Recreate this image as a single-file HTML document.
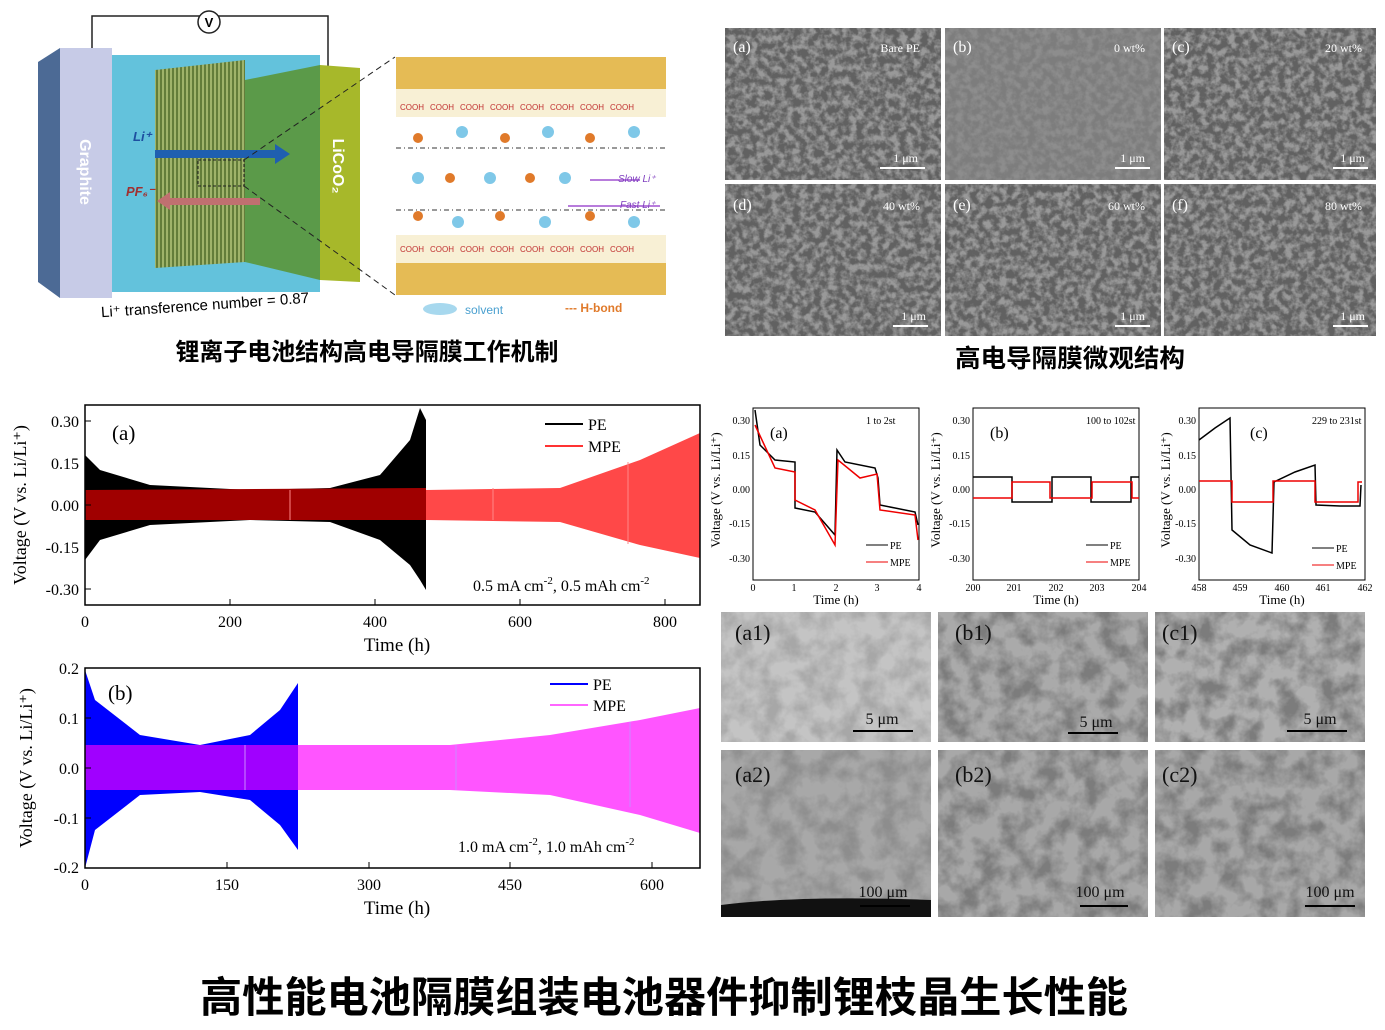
<!DOCTYPE html>
<html><head><meta charset="utf-8"><style>
html,body{margin:0;padding:0;background:#fff;}
svg{display:block;font-family:"Liberation Serif","Noto Serif CJK SC",serif;}
.cj{font-family:"Liberation Sans","Noto Sans CJK SC",sans-serif;font-weight:bold;}
.s{font-family:"Liberation Sans",sans-serif;}
</style></head><body>
<svg width="1385" height="1030" viewBox="0 0 1385 1030" xmlns="http://www.w3.org/2000/svg">
<defs>
<filter id="sem" x="0" y="0" width="100%" height="100%">
<feTurbulence type="fractalNoise" baseFrequency="0.14" numOctaves="3" seed="3"/>
<feColorMatrix type="matrix" values="0 0 0 0 0.12  0 0 0 0 0.12  0 0 0 0 0.12  0 0 0 -3 2.1"/>
</filter>
<filter id="sem2" x="0" y="0" width="100%" height="100%">
<feTurbulence type="fractalNoise" baseFrequency="0.05" numOctaves="4" seed="7"/>
<feColorMatrix type="matrix" values="0 0 0 0 0.2  0 0 0 0 0.2  0 0 0 0 0.2  0 0 0 -2.5 1.6"/>
</filter>
<pattern id="fib" width="8" height="10" patternUnits="userSpaceOnUse"><rect width="8" height="10" fill="#9fb36a"/><path d="M1 0v10M5 0v10" stroke="#4f6b2a" stroke-width="1.5"/></pattern>
</defs>
<rect width="1385" height="1030" fill="#fff"/>

<!-- TOP LEFT DIAGRAM -->
<path d="M92 48V16h236v52" fill="none" stroke="#222" stroke-width="1.5"/>
<circle cx="209" cy="22" r="11" fill="#fff" stroke="#222" stroke-width="1.5"/>
<text x="209" y="27" text-anchor="middle" class="s" font-size="13" font-weight="bold">V</text>
<polygon points="38,62 60,48 60,298 38,282" fill="#4c6a95"/>
<polygon points="60,48 112,48 112,298 60,298" fill="#c7cbe7"/>
<polygon points="112,55 320,55 320,292 112,292" fill="#63c2dc"/>
<polygon points="245,80 320,65 320,280 245,262" fill="#5b9a49"/>
<polygon points="320,65 360,68 360,282 320,280" fill="#a7b82a"/>
<polygon points="155,70 245,60 245,262 155,268" fill="url(#fib)"/>
<text transform="translate(80,172) rotate(90)" text-anchor="middle" class="s" font-size="16" font-weight="bold" fill="#fff">Graphite</text>
<text transform="translate(333,166) rotate(90)" text-anchor="middle" class="s" font-size="16" font-weight="bold" fill="#fff">LiCoO₂</text>
<rect x="155" y="150" width="120" height="8" fill="#1f5fb0"/><polygon points="275,144 290,154 275,164" fill="#1f5fb0"/>
<rect x="170" y="198" width="90" height="7" fill="#c07070"/><polygon points="170,192 157,201 170,210" fill="#c07070"/>
<text x="133" y="141" class="s" font-size="13" font-style="italic" font-weight="bold" fill="#1d4fa0">Li⁺</text>
<text x="126" y="196" class="s" font-size="13" font-style="italic" font-weight="bold" fill="#a03030">PF₆⁻</text>
<rect x="198" y="160" width="46" height="26" fill="none" stroke="#222" stroke-dasharray="3,2"/>
<path d="M244 160L395 57M244 186L395 295" stroke="#222" stroke-dasharray="6,4"/>
<text x="205" y="310" class="s" font-size="15" text-anchor="middle" transform="rotate(-4 205 305)">Li⁺ transference number = 0.87</text>
<rect x="396" y="57" width="270" height="32" fill="#e5bb55"/>
<rect x="396" y="89" width="270" height="28" fill="#f8f0d5"/>
<rect x="396" y="235" width="270" height="28" fill="#f8f0d5"/>
<rect x="396" y="263" width="270" height="32" fill="#e5bb55"/>
<g font-size="8" class="s" fill="#c03030">
<text x="400" y="110">COOH</text><text x="430" y="110">COOH</text><text x="460" y="110">COOH</text><text x="490" y="110">COOH</text><text x="520" y="110">COOH</text><text x="550" y="110">COOH</text><text x="580" y="110">COOH</text><text x="610" y="110">COOH</text>
<text x="400" y="252">COOH</text><text x="430" y="252">COOH</text><text x="460" y="252">COOH</text><text x="490" y="252">COOH</text><text x="520" y="252">COOH</text><text x="550" y="252">COOH</text><text x="580" y="252">COOH</text><text x="610" y="252">COOH</text>
</g>
<path d="M396 148H666M396 210H666" stroke="#333" stroke-dasharray="5,3,1,3"/>
<g fill="#e07a2a"><circle cx="418" cy="138" r="5"/><circle cx="505" cy="138" r="5"/><circle cx="590" cy="138" r="5"/><circle cx="450" cy="178" r="5"/><circle cx="530" cy="178" r="5"/><circle cx="418" cy="216" r="5"/><circle cx="500" cy="216" r="5"/><circle cx="590" cy="216" r="5"/></g>
<g fill="#7fc8e8"><circle cx="462" cy="132" r="6"/><circle cx="548" cy="132" r="6"/><circle cx="634" cy="132" r="6"/><circle cx="418" cy="178" r="6"/><circle cx="490" cy="178" r="6"/><circle cx="565" cy="178" r="6"/><circle cx="458" cy="222" r="6"/><circle cx="545" cy="222" r="6"/><circle cx="634" cy="222" r="6"/></g>
<path d="M590 180H640M568 206H660" stroke="#a050d0" stroke-width="1.5"/>
<text x="618" y="182" class="s" font-size="10" font-style="italic" fill="#8040c0">Slow Li⁺</text>
<text x="620" y="208" class="s" font-size="10" font-style="italic" fill="#8040c0">Fast Li⁺</text>
<ellipse cx="440" cy="309" rx="17" ry="6" fill="#a7d8ee"/>
<text x="465" y="314" class="s" font-size="12" fill="#4aa0d0">solvent</text>
<text x="565" y="312" class="s" font-size="12" font-weight="bold" fill="#e07a2a">--- H-bond</text>
<text x="367" y="360" class="cj" font-size="24" text-anchor="middle" textLength="383" lengthAdjust="spacingAndGlyphs">锂离子电池结构高电导隔膜工作机制</text>

<!-- TOP RIGHT SEM -->
<g>
<rect x="725" y="28" width="216" height="152" fill="#999"/><rect x="725" y="28" width="216" height="152" filter="url(#sem)"/>
<rect x="945" y="28" width="216" height="152" fill="#8d8d8d"/><rect x="945" y="28" width="216" height="152" filter="url(#sem)" opacity="0.35"/>
<rect x="1164" y="28" width="212" height="152" fill="#999"/><rect x="1164" y="28" width="212" height="152" filter="url(#sem)"/>
<rect x="725" y="184" width="216" height="152" fill="#999"/><rect x="725" y="184" width="216" height="152" filter="url(#sem)"/>
<rect x="945" y="184" width="216" height="152" fill="#999"/><rect x="945" y="184" width="216" height="152" filter="url(#sem)"/>
<rect x="1164" y="184" width="212" height="152" fill="#999"/><rect x="1164" y="184" width="212" height="152" filter="url(#sem)"/>
</g>
<g font-size="16" fill="#fff">
<text x="733" y="52">(a)</text><text x="953" y="52">(b)</text><text x="1172" y="52">(c)</text>
<text x="733" y="210">(d)</text><text x="953" y="210">(e)</text><text x="1172" y="210">(f)</text>
</g>
<g font-size="12" fill="#fff" text-anchor="end">
<text x="920" y="52">Bare PE</text><text x="1145" y="52">0 wt%</text><text x="1362" y="52">20 wt%</text>
<text x="920" y="210">40 wt%</text><text x="1145" y="210">60 wt%</text><text x="1362" y="210">80 wt%</text>
<text x="918" y="162">1 μm</text><text x="1145" y="162">1 μm</text><text x="1365" y="162">1 μm</text>
<text x="926" y="320">1 μm</text><text x="1145" y="320">1 μm</text><text x="1365" y="320">1 μm</text>
</g>
<g stroke="#fff" stroke-width="2"><path d="M880 168h45M1115 168h35M1333 168h35M893 326h35M1115 326h35M1333 326h35"/></g>
<text x="1070" y="367" class="cj" font-size="25" text-anchor="middle" textLength="230" lengthAdjust="spacingAndGlyphs">高电导隔膜微观结构</text>

<!-- PLOT A -->
<g>
<path d="M85 455 L100 470 L150 485 L250 490 L330 488 L380 475 L410 440 L420 408 L426 420 L426 590 L420 580 L410 565 L380 540 L330 522 L250 520 L150 525 L100 540 L85 560Z" fill="#000"/>
<path d="M426 490 L560 488 L640 460 L700 433 L700 558 L640 545 L560 522 L426 520Z" fill="#ff4848"/>
<path d="M85 490 L426 488 L426 520 L85 520Z" fill="#a00000"/>
<path d="M290 490v30M493 488v32M628 462v82" stroke="#ff8888"/>
<rect x="85" y="405" width="615" height="200" fill="none" stroke="#000" stroke-width="1.5"/>
<g stroke="#000"><path d="M85 605v-6M230 605v-6M375 605v-6M520 605v-6M665 605v-6M85 421h6M85 463h6M85 505h6M85 547h6M85 589h6"/></g>
<g font-size="16" text-anchor="middle"><text x="85" y="627">0</text><text x="230" y="627">200</text><text x="375" y="627">400</text><text x="520" y="627">600</text><text x="665" y="627">800</text></g>
<g font-size="16" text-anchor="end"><text x="79" y="427">0.30</text><text x="79" y="469">0.15</text><text x="79" y="511">0.00</text><text x="79" y="553">-0.15</text><text x="79" y="595">-0.30</text></g>
<text x="397" y="651" font-size="19" text-anchor="middle">Time (h)</text>
<text transform="translate(26,505) rotate(-90)" font-size="18" text-anchor="middle">Voltage (V vs. Li/Li⁺)</text>
<text x="112" y="440" font-size="21">(a)</text>
<path d="M545 424h38" stroke="#000" stroke-width="2"/><text x="588" y="430" font-size="16">PE</text>
<path d="M545 446h38" stroke="#f33" stroke-width="2"/><text x="588" y="452" font-size="16">MPE</text>
<text x="473" y="591" font-size="16">0.5 mA cm<tspan dy="-7" font-size="11">-2</tspan><tspan dy="7">, 0.5 mAh cm</tspan><tspan dy="-7" font-size="11">-2</tspan></text>
</g>

<!-- PLOT B -->
<g>
<path d="M85 670 L95 700 L140 735 L200 745 L250 735 L280 710 L298 683 L298 850 L280 825 L250 800 L200 792 L140 795 L95 830 L85 868Z" fill="#0000ff"/>
<path d="M298 745 L450 745 L550 735 L640 720 L700 708 L700 833 L640 815 L550 795 L450 790 L298 790Z" fill="#ff55ff"/>
<path d="M85 745 L298 745 L298 790 L85 790Z" fill="#a000ff"/>
<path d="M245 745v45M456 745v45M630 722v85" stroke="#cc88ff"/>
<rect x="85" y="668" width="615" height="200" fill="none" stroke="#000" stroke-width="1.5"/>
<g stroke="#000"><path d="M85 868v-6M227 868v-6M369 868v-6M510 868v-6M652 868v-6M85 718h6M85 768h6M85 818h6"/></g>
<g font-size="16" text-anchor="middle"><text x="85" y="890">0</text><text x="227" y="890">150</text><text x="369" y="890">300</text><text x="510" y="890">450</text><text x="652" y="890">600</text></g>
<g font-size="16" text-anchor="end"><text x="79" y="674">0.2</text><text x="79" y="724">0.1</text><text x="79" y="774">0.0</text><text x="79" y="824">-0.1</text><text x="79" y="873">-0.2</text></g>
<text x="397" y="914" font-size="19" text-anchor="middle">Time (h)</text>
<text transform="translate(32,768) rotate(-90)" font-size="18" text-anchor="middle">Voltage (V vs. Li/Li⁺)</text>
<text x="108" y="700" font-size="21">(b)</text>
<path d="M550 684h38" stroke="#00f" stroke-width="2"/><text x="593" y="690" font-size="16">PE</text>
<path d="M550 705h38" stroke="#f6f" stroke-width="2"/><text x="593" y="711" font-size="16">MPE</text>
<text x="458" y="852" font-size="16">1.0 mA cm<tspan dy="-7" font-size="11">-2</tspan><tspan dy="7">, 1.0 mAh cm</tspan><tspan dy="-7" font-size="11">-2</tspan></text>
</g>

<!-- SMALL PLOTS -->
<g font-size="10">
<rect x="753" y="408" width="166" height="172" fill="none" stroke="#000"/>
<path d="M755 410 L760 445 L775 460 L795 462 L795 508 L815 512 L835 535 L837 450 L845 462 L875 468 L878 478 L880 505 L915 512 L918 525" fill="none" stroke="#000" stroke-width="1.5"/>
<path d="M755 425 L775 468 L795 472 L795 500 L815 510 L835 545 L838 460 L860 478 L877 474 L880 510 L915 515 L918 540" fill="none" stroke="#e00" stroke-width="1.5"/>
<text x="770" y="438" font-size="16">(a)</text><text x="866" y="424">1 to 2st</text>
<g text-anchor="end"><text x="750" y="424">0.30</text><text x="750" y="459">0.15</text><text x="750" y="493">0.00</text><text x="750" y="527">-0.15</text><text x="750" y="562">-0.30</text></g>
<g text-anchor="middle"><text x="753" y="591">0</text><text x="794" y="591">1</text><text x="836" y="591">2</text><text x="877" y="591">3</text><text x="919" y="591">4</text></g>
<text x="836" y="604" font-size="13" text-anchor="middle">Time (h)</text>
<text transform="translate(720,490) rotate(-90)" font-size="13" text-anchor="middle">Voltage (V vs. Li/Li⁺)</text>
<path d="M866 545h22" stroke="#000"/><text x="890" y="549">PE</text><path d="M866 562h22" stroke="#e00"/><text x="890" y="566">MPE</text>

<rect x="973" y="408" width="166" height="172" fill="none" stroke="#000"/>
<path d="M973 477H1012V502H1052V477H1091V502H1131V477H1139" fill="none" stroke="#000" stroke-width="1.5"/>
<path d="M973 498H1012V482H1050V498H1092V482H1132V498H1139" fill="none" stroke="#e00" stroke-width="1.5"/>
<text x="990" y="438" font-size="16">(b)</text><text x="1086" y="424">100 to 102st</text>
<g text-anchor="end"><text x="970" y="424">0.30</text><text x="970" y="459">0.15</text><text x="970" y="493">0.00</text><text x="970" y="527">-0.15</text><text x="970" y="562">-0.30</text></g>
<g text-anchor="middle"><text x="973" y="591">200</text><text x="1014" y="591">201</text><text x="1056" y="591">202</text><text x="1097" y="591">203</text><text x="1139" y="591">204</text></g>
<text x="1056" y="604" font-size="13" text-anchor="middle">Time (h)</text>
<text transform="translate(940,490) rotate(-90)" font-size="13" text-anchor="middle">Voltage (V vs. Li/Li⁺)</text>
<path d="M1086 545h22" stroke="#000"/><text x="1110" y="549">PE</text><path d="M1086 562h22" stroke="#e00"/><text x="1110" y="566">MPE</text>

<rect x="1199" y="408" width="166" height="172" fill="none" stroke="#000"/>
<path d="M1199 440 L1215 428 L1230 418 L1232 530 L1250 545 L1272 553 L1274 482 L1295 472 L1315 465 L1316 505 L1340 506 L1360 506 L1361 485" fill="none" stroke="#000" stroke-width="1.5"/>
<path d="M1199 481H1232V502H1273V481H1315V502H1358V482H1362" fill="none" stroke="#e00" stroke-width="1.5"/>
<text x="1250" y="438" font-size="16">(c)</text><text x="1312" y="424">229 to 231st</text>
<g text-anchor="end"><text x="1196" y="424">0.30</text><text x="1196" y="459">0.15</text><text x="1196" y="493">0.00</text><text x="1196" y="527">-0.15</text><text x="1196" y="562">-0.30</text></g>
<g text-anchor="middle"><text x="1199" y="591">458</text><text x="1240" y="591">459</text><text x="1282" y="591">460</text><text x="1323" y="591">461</text><text x="1365" y="591">462</text></g>
<text x="1282" y="604" font-size="13" text-anchor="middle">Time (h)</text>
<text transform="translate(1170,490) rotate(-90)" font-size="13" text-anchor="middle">Voltage (V vs. Li/Li⁺)</text>
<path d="M1312 548h22" stroke="#000"/><text x="1336" y="552">PE</text><path d="M1312 565h22" stroke="#e00"/><text x="1336" y="569">MPE</text>
</g>

<!-- BOTTOM SEM -->
<rect x="721" y="612" width="210" height="130" fill="#c4c4c4"/><rect x="721" y="612" width="210" height="130" filter="url(#sem2)" opacity="0.4"/>
<rect x="938" y="612" width="210" height="130" fill="#aaa"/><rect x="938" y="612" width="210" height="130" filter="url(#sem2)"/>
<rect x="1155" y="612" width="210" height="130" fill="#b0b0b0"/><rect x="1155" y="612" width="210" height="130" filter="url(#sem2)"/>
<rect x="721" y="750" width="210" height="167" fill="#a8a8a8"/><rect x="721" y="750" width="210" height="167" filter="url(#sem2)" opacity="0.6"/>
<rect x="938" y="750" width="210" height="167" fill="#a8a8a8"/><rect x="938" y="750" width="210" height="167" filter="url(#sem2)"/>
<rect x="1155" y="750" width="210" height="167" fill="#a8a8a8"/><rect x="1155" y="750" width="210" height="167" filter="url(#sem2)"/>
<path d="M721 905 Q800 895 931 900 V917H721Z" fill="#111"/>
<g font-size="22" fill="#111">
<text x="735" y="640">(a1)</text><text x="955" y="640">(b1)</text><text x="1162" y="640">(c1)</text>
<text x="735" y="782">(a2)</text><text x="955" y="782">(b2)</text><text x="1162" y="782">(c2)</text>
</g>
<g font-size="16" fill="#111" text-anchor="middle">
<text x="882" y="724">5 μm</text><text x="1096" y="727">5 μm</text><text x="1320" y="724">5 μm</text>
<text x="883" y="897">100 μm</text><text x="1100" y="897">100 μm</text><text x="1330" y="897">100 μm</text>
</g>
<g stroke="#000" stroke-width="2"><path d="M853 731h60M1068 733h50M1287 731h60M860 906h50M1080 906h48M1305 906h50"/></g>

<text x="664" y="1012" class="cj" font-size="42" text-anchor="middle" textLength="928" lengthAdjust="spacingAndGlyphs">高性能电池隔膜组装电池器件抑制锂枝晶生长性能</text>
</svg>
</body></html>
